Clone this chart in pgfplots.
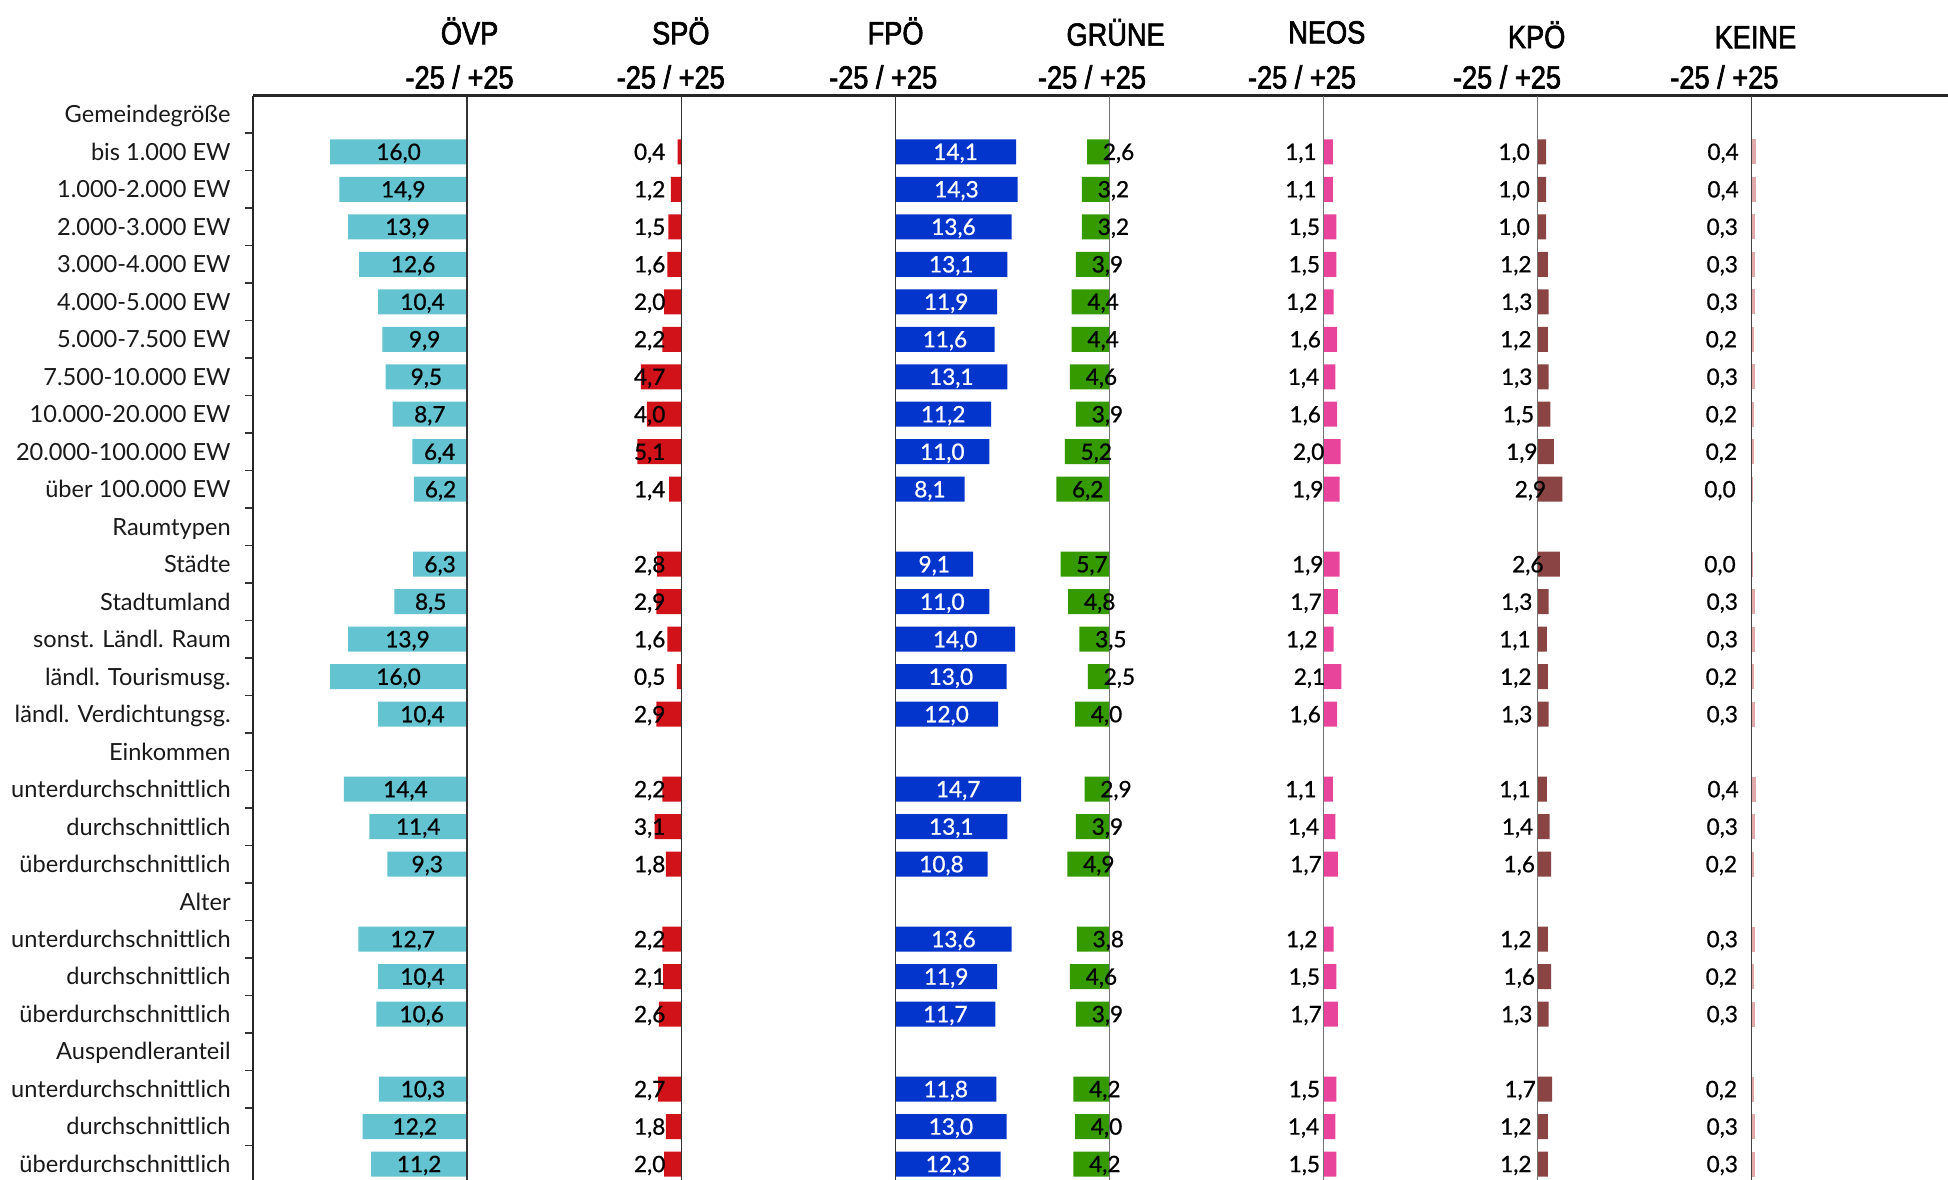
\documentclass[border=0pt]{standalone}
\usepackage{fontspec}
\usepackage{pgfplots}
\usepackage{pgfplotstable}
\pgfplotsset{compat=1.18}
\setmainfont{Lato}
\newfontfamily\headfont{Liberation Sans}[FakeStretch=0.85,FakeBold=2]
\newfontfamily\valfont{Lato}[FakeBold=0.8]
\newcommand\valsize{\valfont\fontsize{11.3}{13}\selectfont}

\definecolor{cOEVP}{HTML}{63C3D1}
\definecolor{cSPOE}{HTML}{D11218}
\definecolor{cFPOE}{HTML}{0334CC}
\definecolor{cGRUENE}{HTML}{349A00}
\definecolor{cNEOS}{HTML}{E9449B}
\definecolor{cKPOE}{HTML}{8A4444}
\definecolor{cKEINE}{HTML}{E0A9AA}

\pgfplotstableread{
row oevp spoe fpoe gruene neos kpoe keine
1 16.0 0.4 14.1 2.6 1.1 1.0 0.4
2 14.9 1.2 14.3 3.2 1.1 1.0 0.4
3 13.9 1.5 13.6 3.2 1.5 1.0 0.3
4 12.6 1.6 13.1 3.9 1.5 1.2 0.3
5 10.4 2.0 11.9 4.4 1.2 1.3 0.3
6 9.9 2.2 11.6 4.4 1.6 1.2 0.2
7 9.5 4.7 13.1 4.6 1.4 1.3 0.3
8 8.7 4.0 11.2 3.9 1.6 1.5 0.2
9 6.4 5.1 11.0 5.2 2.0 1.9 0.2
10 6.2 1.4 8.1 6.2 1.9 2.9 0.04
12 6.3 2.8 9.1 5.7 1.9 2.6 0.04
13 8.5 2.9 11.0 4.8 1.7 1.3 0.3
14 13.9 1.6 14.0 3.5 1.2 1.1 0.3
15 16.0 0.5 13.0 2.5 2.1 1.2 0.2
16 10.4 2.9 12.0 4.0 1.6 1.3 0.3
18 14.4 2.2 14.7 2.9 1.1 1.1 0.4
19 11.4 3.1 13.1 3.9 1.4 1.4 0.3
20 9.3 1.8 10.8 4.9 1.7 1.6 0.2
22 12.7 2.2 13.6 3.8 1.2 1.2 0.3
23 10.4 2.1 11.9 4.6 1.5 1.6 0.2
24 10.6 2.6 11.7 3.9 1.7 1.3 0.3
26 10.3 2.7 11.8 4.2 1.5 1.7 0.2
27 12.2 1.8 13.0 4.0 1.4 1.2 0.3
28 11.2 2.0 12.3 4.2 1.5 1.2 0.3
}\data

\pgfplotsset{
  base/.style={width=847.5pt,height=543.6pt,scale only axis,
    at={(126.5pt,-47.78pt)},anchor=north west,
    ymin=-0.5,ymax=28.5,y dir=reverse,clip=false},
  bars/.style={xbar,bar width=0.667,bar shift=0pt,draw=none,fill=#1},
  vals/.style={draw=none,mark=none,nodes near coords={\pgfmathprintnumber[use comma,fixed,fixed zerofill,precision=1,assume math mode=true]{\pgfplotspointmeta}},
    point meta=explicit,
    every node near coord/.append style={font=\valsize,inner sep=0pt,yshift=-4.05pt,#1}},
}
\tikzset{zl/.style={line width=0.6pt,draw=#1}}

\begin{document}
\begin{tikzpicture}
\path[use as bounding box] (0,0) rectangle (974pt,-589.5pt);
\clip (0,0) rectangle (974pt,-589.5pt);

% ÖVP + frame
\begin{axis}[base,xmin=-25,xmax=172.94,
  hide x axis, axis y line*=left,
  axis line style={draw=black!85,line width=1pt,-},
  xtick=\empty,
  ytick={0,...,28},
  yticklabels={Gemeindegröße,bis 1.000 EW,1.000-2.000 EW,2.000-3.000 EW,3.000-4.000 EW,4.000-5.000 EW,5.000-7.500 EW,7.500-10.000 EW,10.000-20.000 EW,20.000-100.000 EW,über 100.000 EW,Raumtypen,Städte,Stadtumland,sonst. Ländl. Raum,ländl. Tourismusg.,ländl. Verdichtungsg.,Einkommen,unterdurchschnittlich,durchschnittlich,überdurchschnittlich,Alter,unterdurchschnittlich,durchschnittlich,überdurchschnittlich,Auspendleranteil,unterdurchschnittlich,durchschnittlich,überdurchschnittlich},
  major tick length=0pt,
  minor ytick={0.5,1.5,...,27.5},
  minor tick length=4pt, tick align=outside,
  minor tick style={draw=black!80,line width=0.8pt},
  yticklabel style={font=\fontsize{11.8}{14}\selectfont,anchor=base east,inner sep=0pt,xshift=-11pt,yshift=-4.2pt,text=black!90},
]
\addplot[bars=cOEVP] table[x expr=-\thisrow{oevp},y=row]{\data};
\addplot[vals={anchor=base,text=black}] table[x expr=-\thisrow{oevp}/2,y=row,meta=oevp]{\data};
\draw[zl=black!80] (axis cs:0,-0.5) -- (axis cs:0,28.5);
\draw[black!85,line width=1.2pt] (axis cs:-25,-0.5) -- (axis cs:172.94,-0.5);
\end{axis}

% SPÖ
\begin{axis}[base,hide axis,xmin=-50,xmax=147.94]
\addplot[bars=cSPOE] table[x expr=-\thisrow{spoe},y=row]{\data};
\addplot[vals={anchor=base east,text=black}] table[x expr=-1.8,y=row,meta=spoe]{\data};
\draw[zl=black!80] (axis cs:0,-0.5) -- (axis cs:0,28.5);
\end{axis}

% FPÖ
\begin{axis}[base,hide axis,xmin=-75,xmax=122.94]
\addplot[bars=cFPOE] table[x expr=\thisrow{fpoe},y=row]{\data};
\addplot[vals={anchor=base,text=white}] table[x expr=\thisrow{fpoe}/2,y=row,meta=fpoe]{\data};
\draw[zl=black!80] (axis cs:0,-0.5) -- (axis cs:0,28.5);
\end{axis}

% GRÜNE
\begin{axis}[base,hide axis,xmin=-100,xmax=97.94]
\addplot[bars=cGRUENE] table[x expr=-\thisrow{gruene},y=row]{\data};
\draw[zl=black!55] (axis cs:0,-0.5) -- (axis cs:0,28.5);
\addplot[vals={anchor=base west,text=black}] table[x expr=-\thisrow{gruene}+1.8,y=row,meta=gruene]{\data};
\end{axis}

% NEOS
\begin{axis}[base,hide axis,xmin=-125,xmax=72.94]
\addplot[bars=cNEOS] table[x expr=\thisrow{neos},y=row]{\data};
\draw[zl=black!55] (axis cs:0,-0.5) -- (axis cs:0,28.5);
\addplot[vals={anchor=base east,text=black}] table[x expr=\thisrow{neos}-1.85,y=row,meta=neos]{\data};
\end{axis}

% KPÖ
\begin{axis}[base,hide axis,xmin=-150,xmax=47.94]
\addplot[bars=cKPOE] table[x expr=\thisrow{kpoe},y=row]{\data};
\draw[zl=black!55] (axis cs:0,-0.5) -- (axis cs:0,28.5);
\addplot[vals={anchor=base east,text=black}] table[x expr=\thisrow{kpoe}-1.85,y=row,meta=kpoe]{\data};
\end{axis}

% KEINE
\begin{axis}[base,hide axis,xmin=-175,xmax=22.94]
\addplot[bars=cKEINE,bar width=0.613,draw=cKEINE,line width=1pt] table[x expr=\thisrow{keine},y=row]{\data};
\draw[zl=black!75] (axis cs:0,-0.5) -- (axis cs:0,28.5);
\addplot[vals={anchor=base east,text=black}] table[x expr=\thisrow{keine}-1.85,y=row,meta=keine]{\data};
\end{axis}

% headers
\begin{scope}[every node/.style={font=\headfont\fontsize{16}{18}\selectfont,inner sep=0pt,anchor=center}]
\node at (234.8pt,-15.5pt) {ÖVP};
\node at (340.4pt,-15.5pt) {SPÖ};
\node at (447.8pt,-15.5pt) {FPÖ};
\node at (557.8pt,-16.2pt) {GRÜNE};
\node at (663.4pt,-16.2pt) {NEOS};
\node at (768.3pt,-17.4pt) {KPÖ};
\node at (877.7pt,-18.6pt) {KEINE};
\node at (229.8pt,-38.5pt) {-25 / +25};
\node at (335.4pt,-38.5pt) {-25 / +25};
\node at (441.6pt,-38.5pt) {-25 / +25};
\node at (546.0pt,-38.5pt) {-25 / +25};
\node at (651.0pt,-38.5pt) {-25 / +25};
\node at (753.5pt,-38.5pt) {-25 / +25};
\node at (862.2pt,-38.5pt) {-25 / +25};
\end{scope}
\end{tikzpicture}
\end{document}
